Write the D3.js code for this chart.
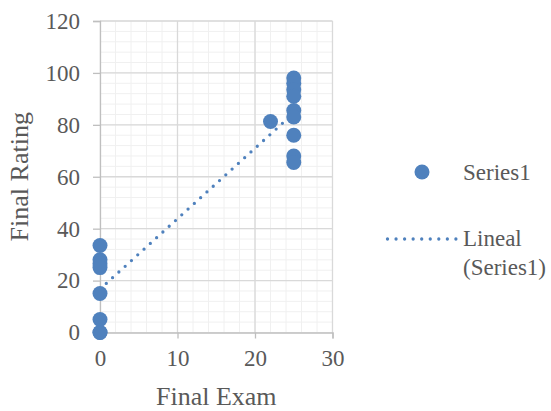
<!DOCTYPE html>
<html>
<head>
<meta charset="utf-8">
<script src="https://cdn.jsdelivr.net/npm/d3@7"></script>
<style>
  html, body { margin: 0; padding: 0; background: #fff; }
  svg { display: block; }
</style>
</head>
<body>
<svg id="chart" width="551" height="411"></svg>
<script>
// Data
const finalExam   = [0, 0, 0, 0, 0, 0, 0, 0, 22, 25, 25, 25, 25, 25, 25, 25, 25, 25];
const finalRating = [33.5, 28, 26.5, 25, 15, 5, 0, 0, 81.3, 98, 96, 93.5, 91, 85.5, 83, 76, 68, 65.5];
const xTicks = [0, 10, 20, 30];
const yTicks = [0, 20, 40, 60, 80, 100, 120];
const seriesName = "Series1";
const trendName = ["Lineal", "(Series1)"];
const xTitle = "Final Exam";
const yTitle = "Final Rating";

const FONT = "'Liberation Serif', 'Times New Roman', serif";
const TEXT = "#595959";
const color = "#4f81bd";
const svg = d3.select("#chart");
const m = { left: 100, right: 332.5, top: 21, bottom: 332.5 };

const x = d3.scaleLinear().domain([0, 30]).range([m.left, m.right]);
const y = d3.scaleLinear().domain([0, 120]).range([m.bottom, m.top]);

// minor gridlines
const xMinor = d3.range(0, 30.001, 2);
const yMinor = d3.range(0, 120.001, 4);
svg.append("g").selectAll("line").data(xMinor).join("line")
  .attr("x1", d => x(d)).attr("x2", d => x(d)).attr("y1", m.top).attr("y2", m.bottom)
  .attr("stroke", "#f0f0f0").attr("stroke-width", 1);
svg.append("g").selectAll("line").data(yMinor).join("line")
  .attr("x1", m.left).attr("x2", m.right).attr("y1", d => y(d)).attr("y2", d => y(d))
  .attr("stroke", "#f0f0f0").attr("stroke-width", 1);

// major gridlines
svg.append("g").selectAll("line").data(xTicks.slice(1)).join("line")
  .attr("x1", d => x(d)).attr("x2", d => x(d)).attr("y1", m.top).attr("y2", m.bottom)
  .attr("stroke", "#d9d9d9").attr("stroke-width", 1.3);
svg.append("g").selectAll("line").data(yTicks.slice(1)).join("line")
  .attr("x1", m.left).attr("x2", m.right).attr("y1", d => y(d)).attr("y2", d => y(d))
  .attr("stroke", "#d9d9d9").attr("stroke-width", 1.3);

// axes
const xAxis = svg.append("g").attr("transform", `translate(0,${m.bottom})`)
  .call(d3.axisBottom(x).tickValues(xTicks).tickSize(6).tickPadding(11));
const yAxis = svg.append("g").attr("transform", `translate(${m.left},0)`)
  .call(d3.axisLeft(y).tickValues(yTicks).tickSize(7).tickPadding(13));
[xAxis, yAxis].forEach(g => {
  g.attr("font-family", null).attr("font-size", null);
  g.select(".domain").attr("stroke", "#bfbfbf").attr("stroke-width", 1.3);
  g.selectAll(".tick line").attr("stroke", "#bfbfbf").attr("stroke-width", 1.3);
  g.selectAll(".tick text").style("font-family", FONT)
    .style("font-size", "23px").attr("fill", TEXT);
});

// trendline (least squares)
const n = finalExam.length;
const mx = d3.mean(finalExam), my = d3.mean(finalRating);
let sxy = 0, sxx = 0;
for (let i = 0; i < n; i++) { sxy += (finalExam[i]-mx)*(finalRating[i]-my); sxx += (finalExam[i]-mx)**2; }
const slope = sxy / sxx, intercept = my - slope * mx;
const [x0, x1] = d3.extent(finalExam);
svg.append("line")
  .attr("x1", x(x0)).attr("y1", y(intercept + slope * x0))
  .attr("x2", x(x1)).attr("y2", y(intercept + slope * x1))
  .attr("stroke", color).attr("stroke-width", 3.3)
  .attr("stroke-linecap", "round").attr("stroke-dasharray", "0,8.5");

// points
svg.append("g").selectAll("circle").data(finalExam.map((d, i) => [d, finalRating[i]])).join("circle")
  .attr("cx", d => x(d[0])).attr("cy", d => y(d[1])).attr("r", 7.5).attr("fill", color);

function label(sel, size) {
  return sel.style("font-family", FONT).style("font-size", size + "px").attr("fill", TEXT);
}

// axis titles
label(svg.append("text"), 26).attr("x", (m.left + m.right) / 2).attr("y", 405)
  .attr("text-anchor", "middle").text(xTitle);
label(svg.append("text"), 26).attr("transform", `translate(28,${(m.top + m.bottom) / 2}) rotate(-90)`)
  .attr("text-anchor", "middle").text(yTitle);

// legend
const lg = svg.append("g");
lg.append("circle").attr("cx", 422).attr("cy", 172).attr("r", 7.5).attr("fill", color);
label(lg.append("text"), 23).attr("x", 463).attr("y", 179.5).text(seriesName);
lg.append("line").attr("x1", 387.5).attr("x2", 456).attr("y1", 239).attr("y2", 239)
  .attr("stroke", color).attr("stroke-width", 3.3)
  .attr("stroke-linecap", "round").attr("stroke-dasharray", "0,8.55");
label(lg.append("text"), 23).attr("x", 463).attr("y", 246).text(trendName[0]);
label(lg.append("text"), 23).attr("x", 463).attr("y", 275).text(trendName[1]);
</script>
</body>
</html>
